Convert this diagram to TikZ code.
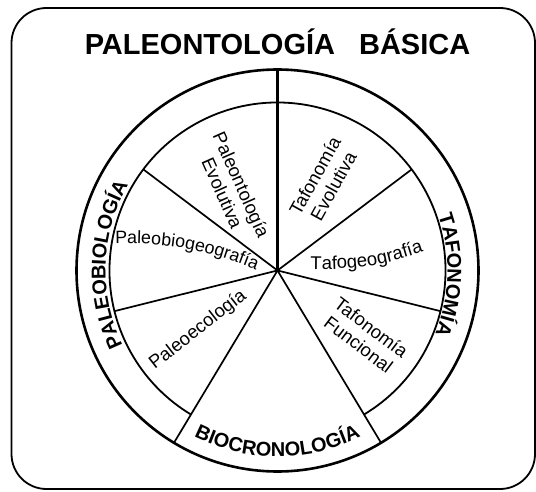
\documentclass[tikz,border=0pt]{standalone}
\usepackage{fontspec}
\setmainfont{Liberation Sans}
\usetikzlibrary{decorations.text,calc}
\begin{document}
\begin{tikzpicture}[x=1pt,y=1pt,
  frame/.style={line width=1.8pt, rounded corners=35pt},
  outerring/.style={line width=2.6pt},
  innerring/.style={line width=1.8pt},
  spoke/.style={line width=1.7pt},
  mainspoke/.style={line width=2.4pt},
  sector/.style={font=\fontsize{18.5}{21}\selectfont, align=center, inner sep=0pt},
  ringtext/.style={decorate, decoration={text along path, text align=center,
      text={|\bfseries\fontsize{20}{24}\selectfont|#1}}},
  curvetext/.style={decorate, decoration={text along path, text align=center,
      text={|\fontsize{18.5}{21}\selectfont|#1}}},
  curvetextsm/.style={decorate, decoration={text along path, text align=center,
      text={|\fontsize{17.8}{21}\selectfont|#1}}}
]
\useasboundingbox (0,0) rectangle (536,491);
\draw[frame] (11.5,2) rectangle (535,483);
\coordinate (C) at (277.5,220.5);
\def\Ro{201}
\def\Ri{168}
\draw[outerring] (C) circle[radius=\Ro];
\coordinate (ia) at ($(C)+(-59:\Ri)$);
\draw[innerring] (ia) arc[start angle=-59, end angle=239, radius=\Ri];
\foreach \a/\r [count=\i] in {143/\Ri,194/\Ri,239/\Ro,301/\Ro,346/\Ri,37/\Ri}{
  \coordinate (s\i) at ($(C)+(\a:\r)$);
  \draw[spoke] (C) -- (s\i);
}
\coordinate (s0) at ($(C)+(90:\Ro)$);
\draw[mainspoke] (C) -- (s0);
% ring labels
\coordinate (pb) at ($(C)+(230:172)$);
\path[ringtext=PALEOBIOLOGÍA] (pb) arc[start angle=230, end angle=126, radius=172];
\coordinate (tf) at ($(C)+(48.5:170)$);
\path[ringtext=TAFONOMÍA] (tf) arc[start angle=48.5, end angle=-51.5, radius=170];
\coordinate (bc) at ($(C)+(220:186)$);
\path[ringtext=BIOCRONOLOGÍA] (bc) arc[start angle=220, end angle=320, radius=186];
% title
\node[font=\bfseries\fontsize{29}{34}\selectfont, anchor=base, inner sep=0pt] (title) at (277.5,436) {PALEONTOLOGÍA\hspace{24pt}BÁSICA};
% sector labels
\node[sector, rotate=-66] (pe) at (232,302) {Paleontología\\Evolutiva};
\node[sector, rotate=61] (te) at (324,310) {Tafonomía\\Evolutiva};
\coordinate (pbg1) at (110,247);
\coordinate (pbg2) at (261,219);
\path[curvetextsm=Paleobiogeografía] (pbg1) to[bend left=12] (pbg2);
\coordinate (tg1) at (308,222);
\coordinate (tg2) at (426,240);
\path[curvetext=Tafogeografía] (tg1) to[bend right=10] (tg2);
\node[sector, rotate=38] (pec) at (198,161) {Paleoecología};
\node[sector, rotate=-37] (tfu) at (365,155) {Tafonomía\\Funcional};
\end{tikzpicture}
\end{document}
